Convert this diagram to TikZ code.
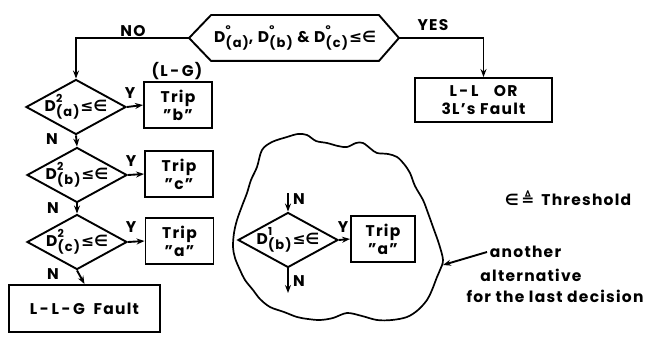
\documentclass[tikz,border=0pt]{standalone}
\usepackage{fontspec}
\setmainfont{Poppins}[LetterSpace=8]
\newfontfamily\symfont{DejaVu Sans}
\usetikzlibrary{arrows.meta,shapes.geometric}
% D with a superscript stacked over a bracketed subscript
\newcommand\Dq[2]{D\kern0.3pt\makebox[0pt][l]{\raisebox{1.05ex}{\fontsize{11}{11}\selectfont #1}}%
  \raisebox{-0.6ex}{\fontsize{13}{13}\selectfont(#2)}}
\newcommand\lessin{{\symfont\bfseries\kern1pt ≤∈}}
\begin{document}
\begin{tikzpicture}[x=1pt,y=-1pt,
  line width=1.9pt,
  txt/.style={font=\fontsize{15.5}{18}\selectfont\bfseries, inner sep=0pt},
  box/.style={draw, txt, align=center, minimum width=68pt, minimum height=46pt},
  dia/.style={draw, diamond, minimum width=100pt, minimum height=55pt, inner sep=0pt},
  arr/.style={-{Stealth[length=8pt,width=6pt]}},
  lab/.style={txt}]
\useasboundingbox (0,0) rectangle (663,339);

% top decision (hexagon)
\node[txt, minimum width=166pt, minimum height=44pt] (q0) at (295,38)
  {\Dq{°}{a}, \Dq{°}{b} \& \Dq{°}{c}\lessin};
\coordinate (q0w) at ([xshift=-22pt]q0.west);
\coordinate (q0e) at ([xshift=20pt]q0.east);
\draw (q0.north west) -- (q0.north east) -- (q0e) -- (q0.south east)
  -- (q0.south west) -- (q0w) -- cycle;

% YES branch
\node[box, minimum width=137pt, minimum height=44pt] (ll) at (483.5,100)
  {L\,-\,L\quad OR\\3L's Fault};
\draw[arr] (q0e) -| (ll.north);
\node[lab] at (433,25) {YES};

% NO branch: chain of phase decisions
\node[dia] (d1) at (76,107) {};
\node[txt] at (d1) {\Dq{2}{a}\lessin};
\node[dia] (d2) at (77,175) {};
\node[txt] at (d2) {\Dq{2}{b}\lessin};
\node[dia] (d3) at (77,242) {};
\node[txt] at (d3) {\Dq{2}{c}\lessin};
\draw[arr] (q0w) -| (d1.north);
\node[lab] at (133,31) {NO};

\node[box] (tb) at (178,105) {Trip\\"b"};
\node[lab] at (177,71) {(L\,-\,G)};
\node[box] (tc) at (179,174) {Trip\\"c"};
\node[box] (ta) at (179.5,241) {Trip\\"a"};
\node[box, minimum width=151pt, minimum height=47pt] (llg) at (84.5,308.5)
  {L\,-\,L\,-\,G\; Fault};

\draw[arr] (d1.east) -- (tb.west);
\draw[arr] (d2.east) -- (tc.west);
\draw[arr] (d3.east) -- (ta.west);
\node[lab] at (130,93) {Y};
\node[lab] at (131,161) {Y};
\node[lab] at (131,227) {Y};

\draw[arr] (d1.south) -- (d2.north);
\draw[arr] (d2.south) -- (d3.north);
\draw[arr] (d3.south) -- (llg.north);
\node[lab] at (52,139) {N};
\node[lab] at (53,208) {N};
\node[lab] at (53,274) {N};

% alternative last decision inside a cloud
\draw[line width=1.7pt] plot[smooth cycle, tension=0.55] coordinates {
  (262,150) (272,142) (287,137) (298,134) (307,135) (316,141) (327,143)
  (338,146) (347,147) (356,143) (363,143) (371,149) (377,153) (388,154)
  (397,157) (404,164) (410,173) (415,186) (423,200) (428,213) (433,227)
  (439,244) (443,260) (440,270) (437,277) (432,290) (427,300) (418,310)
  (407,317) (392,320) (377,320) (362,316) (347,313) (333,318) (320,320)
  (308,319) (297,317) (284,312) (270,307) (260,299) (253,290) (245,280)
  (240,270) (235,258) (233,247) (234,233) (237,220) (242,206) (247,193)
  (251,180) (257,167)};
\coordinate (cloudpt) at (443,265);

\node[dia] (d4) at (288,240) {};
\node[txt] at (d4) {\Dq{1}{b}\lessin};
\node[box, minimum width=64pt] (ta2) at (383,239) {Trip\\"a"};
\coordinate (n4in) at (288,193);
\coordinate (n4out) at (288,293);
\draw[arr] (n4in) -- (d4.north);
\draw[arr] (d4.south) -- (n4out);
\draw[arr] (d4.east) -- (ta2.west);
\node[lab] at (299,199) {N};
\node[lab] at (299,281) {N};
\node[lab] at (343,227) {Y};

% annotation
\coordinate (annot) at (487,252);
\draw[arr] (annot) -- (cloudpt);
\node[lab, anchor=west] at (489,252) {another};
\node[lab] at (531,275) {alternative};
\node[lab] at (555,296) {for the last decision};

\node[lab] at (568,198) {{\symfont\bfseries ∈\,≜}\, Threshold};
\end{tikzpicture}
\end{document}
